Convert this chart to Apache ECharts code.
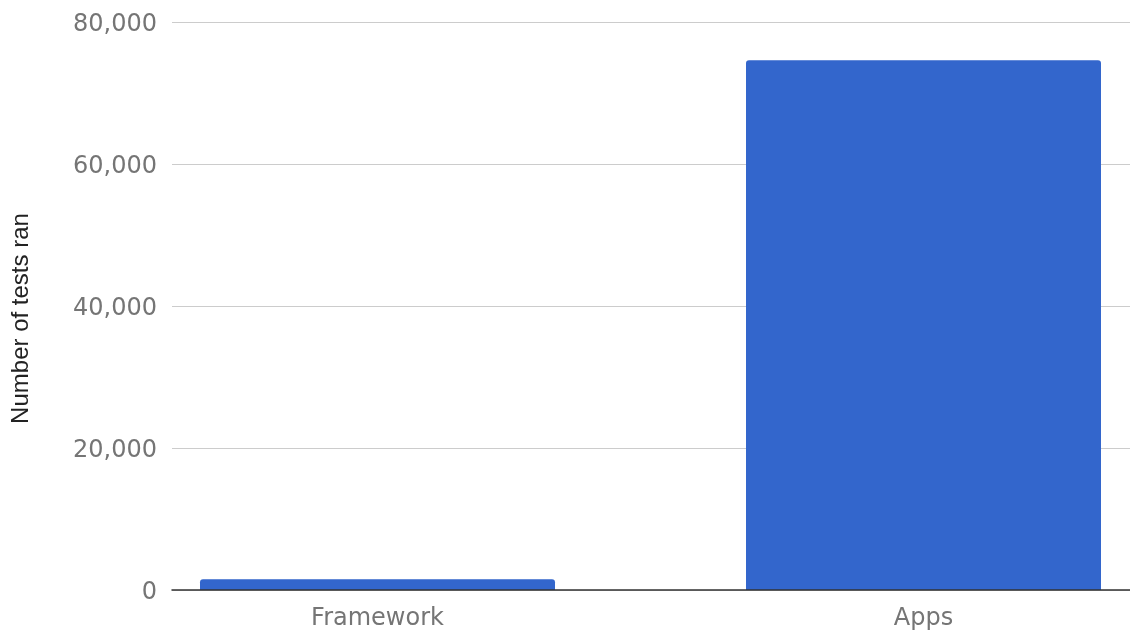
<!DOCTYPE html>
<html>
<head>
<meta charset="utf-8">
<script src="https://cdn.jsdelivr.net/npm/echarts@6/dist/echarts.min.js"></script>
<style>
  html, body { margin: 0; padding: 0; background: #fff; }
  #chart { width: 1130px; height: 633px; }
</style>
</head>
<body>
<div id="chart"></div>
<script>
const categories = ['Framework', 'Apps'];
const testsRan = [1500, 74600];
const yMin = 0;
const yMax = 80000;
const yInterval = 20000;
const yTitle = 'Number of tests ran';

const chart = echarts.init(document.getElementById('chart'), null, { renderer: 'canvas' });

const option = {
  animation: false,
  backgroundColor: '#ffffff',
  grid: [
    { left: 172, right: 0, top: 22, bottom: 43, containLabel: false, outerBoundsMode: 'none' },
    { left: 104.5, right: -66.5, top: 22, bottom: 43, containLabel: false, outerBoundsMode: 'none' }
  ],
  xAxis: [
    {
      type: 'category',
      gridIndex: 0,
      data: categories,
      axisLabel: { show: false },
      axisTick: { show: false },
      axisLine: { show: true, lineStyle: { color: '#333333', width: 1.5 } },
      splitLine: { show: false },
      z: 5
    },
    {
      type: 'category',
      gridIndex: 1,
      data: categories,
      axisLine: { show: false },
      axisTick: { show: false },
      splitLine: { show: false },
      axisLabel: {
        color: '#757575',
        fontSize: 24,
        fontFamily: 'DejaVu Sans',
        margin: 17
      }
    }
  ],
  yAxis: [
    {
      type: 'value',
      gridIndex: 0,
      min: yMin,
      max: yMax,
      interval: yInterval,
      name: yTitle,
      nameLocation: 'middle',
      nameGap: 139,
      nameTextStyle: {
        color: '#222222',
        fontSize: 24,
        fontFamily: 'Liberation Sans',
        padding: [0, 25, 0, 0]
      },
      axisLine: { show: false },
      axisTick: { show: false },
      axisLabel: {
        margin: 15,
        formatter: v => '{t|' + v.toLocaleString('en-US') + '}',
        rich: {
          t: {
            color: '#757575',
            fontSize: 24,
            fontFamily: 'DejaVu Sans',
            padding: [6, 0, 0, 0]
          }
        }
      },
      splitLine: { show: true, lineStyle: { color: '#cccccc', width: 1 } }
    },
    {
      type: 'value',
      gridIndex: 1,
      min: yMin,
      max: yMax,
      interval: yInterval,
      show: false,
      splitLine: { show: false }
    }
  ],
  series: [
    {
      type: 'bar',
      xAxisIndex: 0,
      yAxisIndex: 0,
      data: []
    },
    {
      type: 'bar',
      xAxisIndex: 1,
      yAxisIndex: 1,
      data: testsRan,
      barWidth: 355,
      itemStyle: { color: '#3366cc', borderRadius: [3, 3, 0, 0] },
      z: 2
    }
  ]
};

chart.setOption(option);
</script>
</body>
</html>
